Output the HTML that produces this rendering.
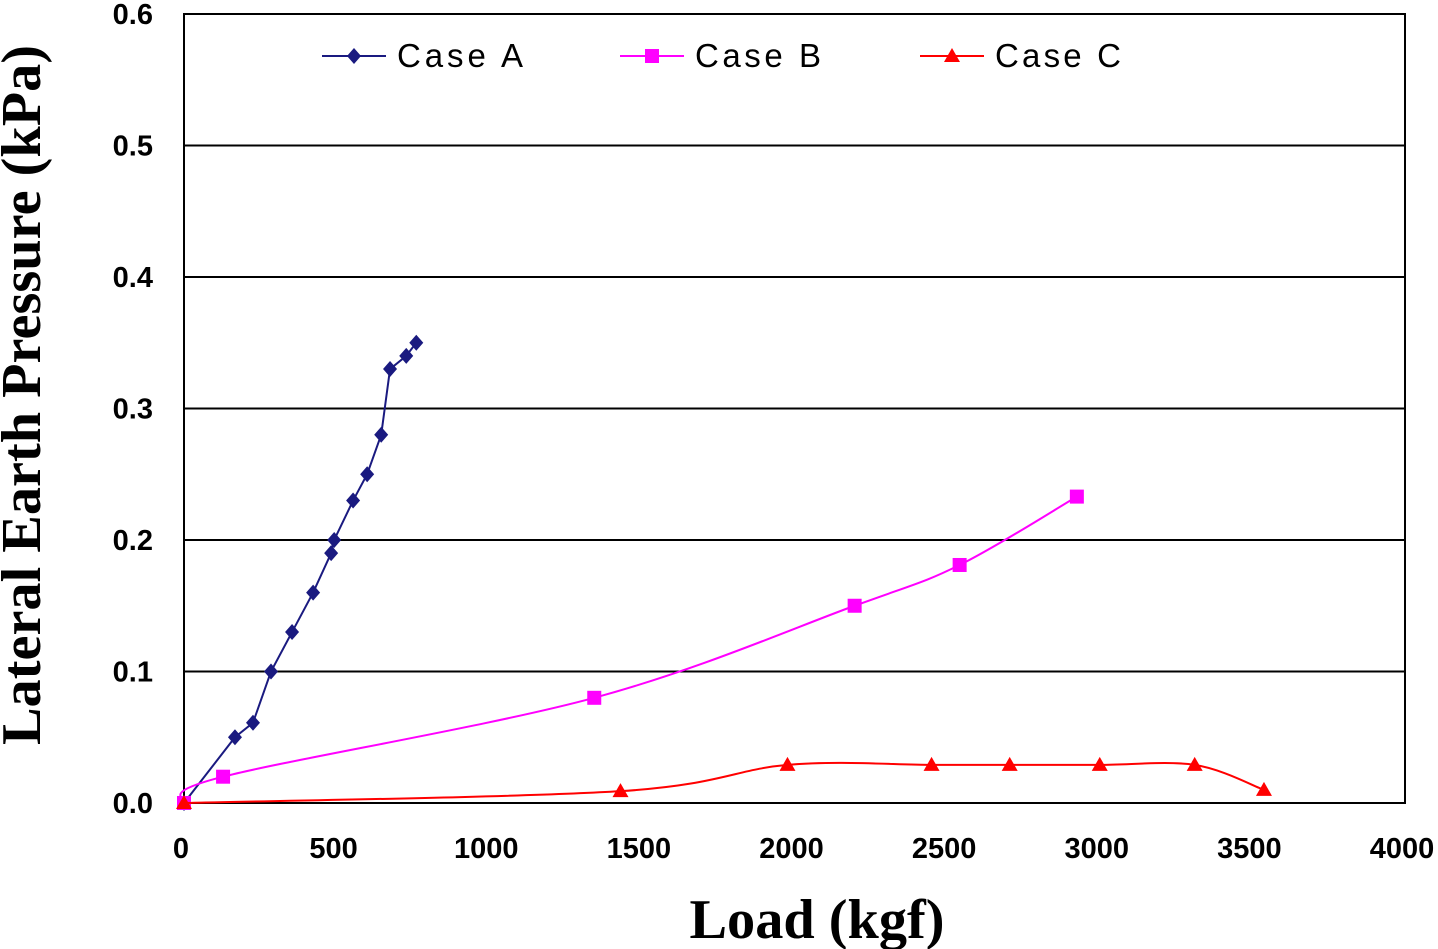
<!DOCTYPE html>
<html><head><meta charset="utf-8"><style>
html,body{margin:0;padding:0;background:#fff;}
svg{display:block;}
</style></head><body>
<svg id="chart" width="1438" height="949" xmlns="http://www.w3.org/2000/svg">
<g id="grid"></g>
<g id="series"></g>
<g id="legend"></g>
<text x="817" y="938" text-anchor="middle" font-family="Liberation Serif, serif" font-weight="bold" font-size="56" textLength="255" lengthAdjust="spacingAndGlyphs">Load (kgf)</text>
<text transform="translate(40,395) rotate(-90)" text-anchor="middle" font-family="Liberation Serif, serif" font-weight="bold" font-size="56" textLength="700" lengthAdjust="spacingAndGlyphs">Lateral Earth Pressure (kPa)</text>
</svg>
<script>
const xTicks=[0,500,1000,1500,2000,2500,3000,3500,4000];
const yTicks=[0,0.1,0.2,0.3,0.4,0.5,0.6];
const yTickLabels=["0.0","0.1","0.2","0.3","0.4","0.5","0.6"];
const seriesNames=["Case A","Case B","Case C"];
const caseAX=[0,167,226,285,354,423,482,492,554,600,646,675,728,761];
const caseAY=[0,0.05,0.061,0.1,0.13,0.16,0.19,0.2,0.23,0.25,0.28,0.33,0.34,0.35];
const caseBX=[0,128,1344,2197,2541,2925];
const caseBY=[0,0.02,0.08,0.15,0.181,0.233];
const caseCX=[0,1430,1977,2449,2705,3000,3311,3538];
const caseCY=[0,0.009,0.029,0.029,0.029,0.029,0.029,0.01];

const NS="http://www.w3.org/2000/svg";
const L=184,R=1405,T=14,B=803;
const sx=v=>L+(v/4000)*(R-L);
const sy=v=>B-(v/0.6)*(B-T);
function mk(tag,attrs,parent){const e=document.createElementNS(NS,tag);for(const k in attrs)e.setAttribute(k,attrs[k]);parent.appendChild(e);return e;}
const grid=document.getElementById('grid');
yTicks.forEach((v,i)=>{
  const ln=mk('line',{x1:L,x2:R,y1:sy(v),y2:sy(v),stroke:'#000','stroke-width':2},grid);
  
  
  const t=mk('text',{x:153,y:sy(v)+10,'text-anchor':'end','font-family':'Liberation Sans, sans-serif','font-weight':'bold','font-size':29},grid);
  t.textContent=yTickLabels[i];
  
  
});
xTicks.forEach(v=>{
  const t=mk('text',{x:sx(v)-3,y:858,'text-anchor':'middle','font-family':'Liberation Sans, sans-serif','font-weight':'bold','font-size':29},grid);
  t.textContent=String(v);
  
  
});
const frame=mk('rect',{x:L,y:T,width:R-L,height:B-T,fill:'none',stroke:'#000','stroke-width':2},grid);



function smoothPath(pts){
  let d=`M${pts[0][0]},${pts[0][1]}`;
  for(let i=0;i<pts.length-1;i++){
    const p0=pts[i-1]||pts[i],p1=pts[i],p2=pts[i+1],p3=pts[i+2]||p2;
    const c1=[p1[0]+(p2[0]-p0[0])/6,p1[1]+(p2[1]-p0[1])/6];
    const c2=[p2[0]-(p3[0]-p1[0])/6,p2[1]-(p3[1]-p1[1])/6];
    d+=` C${c1[0]},${c1[1]} ${c2[0]},${c2[1]} ${p2[0]},${p2[1]}`;
  }
  return d;
}
function marker(type,x,y,color,parent){
  let e;
  if(type==='diamond')e=mk('polygon',{points:`${x},${y-8} ${x+7},${y} ${x},${y+8} ${x-7},${y}`,fill:color},parent);
  else if(type==='square')e=mk('rect',{x:x-7,y:y-7,width:14,height:14,fill:color},parent);
  else e=mk('polygon',{points:`${x},${y-8} ${x+8},${y+6} ${x-8},${y+6}`,fill:color},parent);
  return e;
}
const sg=document.getElementById('series');
const defs=[[caseAX,caseAY,'#1a1a80','diamond',false,'case-a'],[caseBX,caseBY,'#ff00ff','square',true,'case-b'],[caseCX,caseCY,'#ff0000','triangle',true,'case-c']];
defs.forEach(([xs,ys,c,m,smooth,name])=>{
  const pts=xs.map((x,i)=>[sx(x),sy(ys[i])]);
  const d=smooth?smoothPath(pts):'M'+pts.map(p=>p.join(',')).join(' L');
  const p=mk('path',{d:d,fill:'none',stroke:c,'stroke-width':2},sg);
  
  
  pts.forEach(pt=>{
    const e=marker(m,pt[0],pt[1],c,sg);
    
    
  });
});
const lg=document.getElementById('legend');
const legX=[322,620,920];
defs.forEach((dd,i)=>{
  const g=mk('g',{},lg);
  
  
  mk('line',{x1:legX[i],x2:legX[i]+64,y1:56,y2:56,stroke:dd[2],'stroke-width':2},g);
  marker(dd[3],legX[i]+32,56,dd[2],g);
  const t=mk('text',{x:legX[i]+75,y:67,'font-family':'Liberation Sans, sans-serif','font-size':33,textLength:126,lengthAdjust:'spacing'},g);
  t.textContent=seriesNames[i];
});
</script>
</body></html>
